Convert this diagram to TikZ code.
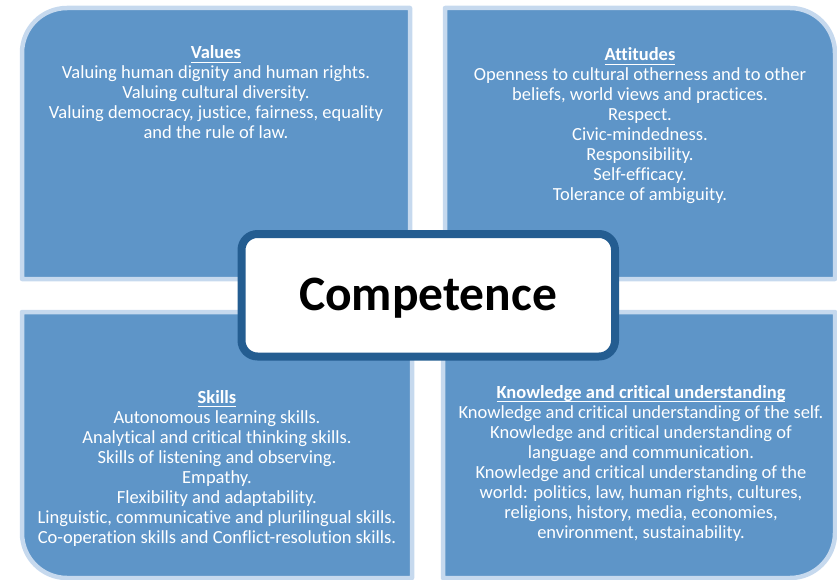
\documentclass[tikz,border=0pt]{standalone}
\usepackage{fontspec}
\setmainfont{Carlito}[RawFeature={-liga;-clig}]
\definecolor{quadfill}{HTML}{5E95C8}
\definecolor{quadedge}{HTML}{C6D9EE}
\definecolor{coreedge}{HTML}{245D91}
\newcommand{\myul}[1]{\leavevmode\setbox0\hbox{#1}\rlap{\rule[-4.2pt]{\wd0}{1.2pt}}\box0}
\newcommand{\boxtext}[1]{\parbox[t]{400pt}{\centering\fontsize{18.5}{20}\selectfont #1}}
\tikzset{
  quad/.style={fill=quadfill, draw=quadedge, line width=4.5pt, line join=round},
  core/.style={fill=white, draw=coreedge, line width=8pt, rounded corners=16pt},
  blocktext/.style={anchor=base, inner sep=0pt, text=white},
}
\begin{document}
\begin{tikzpicture}[x=1pt,y=-1pt]
\useasboundingbox (0,0) rectangle (837,580);
% quadrants
\path[quad] (22,279) -- (22,53) arc[start angle=180,end angle=90,radius=45pt] -- (410,8) -- (410,279) -- cycle;
\path[quad] (445,279) -- (445,8) -- (790,8) arc[start angle=90,end angle=0,radius=45pt] -- (835,279) -- cycle;
\path[quad] (22,312) -- (412,312) -- (412,578) -- (67,578) arc[start angle=270,end angle=180,radius=45pt] -- cycle;
\path[quad] (443,312) -- (835,312) -- (835,533) arc[start angle=0,end angle=-90,radius=45pt] -- (443,578) -- cycle;
% centre
\draw[core] (241.5,234) rectangle (615,356.5);
\node[anchor=base, inner sep=0pt, font=\fontsize{49.5}{56}\selectfont\bfseries] (comp) at (428,310) {Competence};
% texts
\node[blocktext] (values) at (216,59) {\boxtext{\myul{\textbf{Values}}\\
Valuing human dignity and human rights.\\
Valuing cultural diversity.\\
Valuing democracy, justice, fairness, equality\\
and the rule of law.}};
\node[blocktext] (attitudes) at (640,61) {\boxtext{\myul{\textbf{Attitudes}}\\
Openness to cultural otherness and to other\\
beliefs, world views and practices.\\
Respect.\\
Civic-mindedness.\\
Responsibility.\\
Self-efficacy.\\
Tolerance of ambiguity.}};
\node[blocktext] (skills) at (217,403) {\boxtext{\myul{\textbf{Skills}}\\
Autonomous learning skills.\\
Analytical and critical thinking skills.\\
Skills of listening and observing.\\
Empathy.\\
Flexibility and adaptability.\\
Linguistic, communicative and plurilingual skills.\\
Co-operation skills and Conflict-resolution skills.}};
\node[blocktext] (knowledge) at (641,398) {\boxtext{\myul{\textbf{Knowledge and critical understanding}}\\
Knowledge and critical understanding of the self.\\
Knowledge and critical understanding of\\
language and communication.\\
Knowledge and critical understanding of the\\
world: politics, law, human rights, cultures,\\
religions, history, media, economies,\\
environment, sustainability.}};
\end{tikzpicture}
\end{document}
